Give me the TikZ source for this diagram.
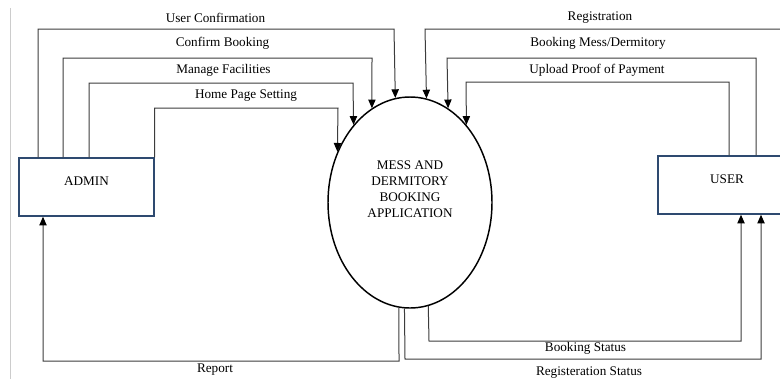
\documentclass[tikz,border=0pt]{standalone}
\usepackage{fontspec}
\setmainfont{Liberation Serif}
\usetikzlibrary{arrows.meta,shapes.geometric}
\definecolor{flowgray}{HTML}{3C3C3C}
\definecolor{navy}{HTML}{2E4A70}
\definecolor{margingray}{HTML}{CCCCCC}
\begin{document}
\begin{tikzpicture}[x=0.75pt,y=-0.75pt,
  flow/.style={draw=flowgray, line width=0.75pt, -{Triangle[length=6.5pt,width=5.5pt,fill=black,color=black]}},
  entity/.style={draw=navy, line width=1.1pt, minimum height=43.5pt, inner sep=0pt,
    text height=6.6pt, text depth=8.8pt, font=\fontsize{9.9}{12}\selectfont},
  process/.style={draw=black, line width=1.1pt, ellipse, inner sep=0pt,
    minimum width=123pt, minimum height=158.25pt},
  lbl/.style={inner sep=0pt, anchor=base, font=\fontsize{9.9}{12}\selectfont},
  ptext/.style={inner sep=0pt, align=center, font=\fontsize{9.9}{12}\selectfont}
]
\useasboundingbox (0,0) rectangle (780,379);
\clip (0,0) rectangle (780,379);
\fill[white] (0,0) rectangle (780,379);
\draw[margingray, line width=0.75pt] (10,8) -- (10,379);

\node[entity, minimum width=101.25pt] (admin) at (86.5,187) {ADMIN};
\node[entity, minimum width=103.5pt] (user) at (727,185) {USER};
\node[process] (proc) at (410,202.5) {};
\node[ptext] (proctxt) at (410,189.5) {MESS AND\\DERMITORY\\BOOKING\\APPLICATION};

% admin -> process
\draw[flow] (38,0 |- admin.north) |- (394,29) -- (proc.98.8);
\draw[flow] (63,0 |- admin.north) |- (372,58) -- (proc.112.1);
\draw[flow] (89,0 |- admin.north) |- (353,83) -- (proc.126.9);
\draw[flow] (admin.north east) |- (338,108) -- (proc.145);
% user -> process
\draw[flow] (785,0 |- user.north) |- (425,29) -- (proc.81.8);
\draw[flow] (756,0 |- user.north) |- (447,58) -- (proc.68.5);
\draw[flow] (729,0 |- user.north) |- (466,82) -- (proc.54);
% process -> admin / user
\draw[flow] (proc.264) -- (399,361) -| (43,0 |- admin.south);
\draw[flow] (proc.267.3) -- (405,359) -| (761,0 |- user.south);
\draw[flow] (proc.280.5) -- (429,341) -| (741,0 |- user.south);

% labels
\node[lbl] (l1) at (215.5,22) {User Confirmation};
\node[lbl] (l2) at (222.5,46) {Confirm Booking};
\node[lbl] (l3) at (223.5,73) {Manage Facilities};
\node[lbl] (l4) at (246,98) {Home Page Setting};
\node[lbl] (l5) at (600,20) {Registration};
\node[lbl] (l6) at (598,46) {Booking Mess/Dermitory};
\node[lbl] (l7) at (597,73) {Upload Proof of Payment};
\node[lbl] (l8) at (215,372) {Report};
\node[lbl] (l9) at (585.5,351) {Booking Status};
\node[lbl] (l10) at (589,375) {Registeration Status};
\end{tikzpicture}
\end{document}
